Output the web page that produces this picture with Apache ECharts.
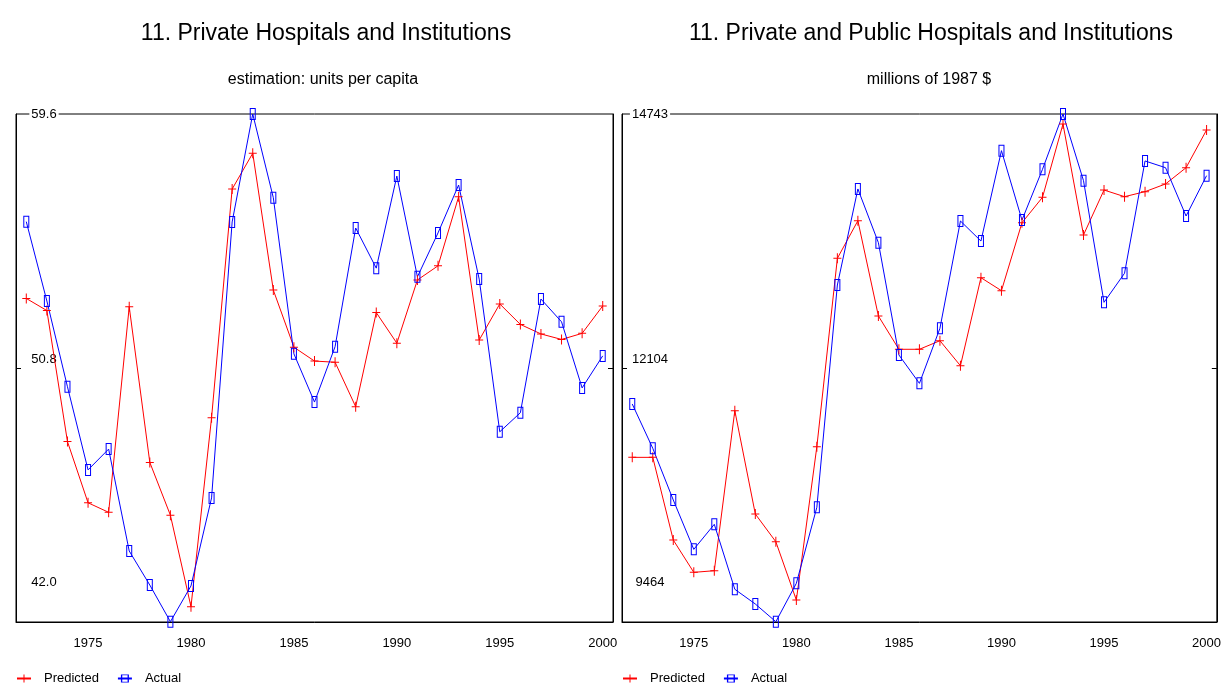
<!DOCTYPE html>
<html><head><meta charset="utf-8">
<script src="https://cdn.jsdelivr.net/npm/echarts@6/dist/echarts.min.js"></script>
<style>html,body{margin:0;padding:0;background:#fff}#c{width:1224px;height:683px}</style>
</head><body><div id="c"></div>
<script>
const years = ['1972','1973','1974','1975','1976','1977','1978','1979','1980','1981','1982','1983','1984','1985','1986','1987','1988','1989','1990','1991','1992','1993','1994','1995','1996','1997','1998','1999','2000'];
const privPredicted = [53.21,52.79,48.25,46.13,45.80,52.92,47.53,45.70,42.53,49.08,57.00,58.24,53.50,51.52,51.04,51.00,49.46,52.72,51.66,53.85,54.34,56.73,51.77,53.02,52.31,51.98,51.79,52.00,52.95];
const privActual    = [55.87,53.12,50.15,47.27,47.99,44.46,43.28,42.01,43.25,46.30,55.86,59.60,56.70,51.29,49.62,51.54,55.65,54.26,57.45,53.96,55.48,57.14,53.88,48.59,49.25,53.19,52.40,50.11,51.22];
const totPredicted  = [11175,11175,10316,9980,9997,11660,10586,10298,9692,11286,13243,13634,12644,12298,12298,12387,12127,13042,12907,13613,13877,14639,13486,13953,13884,13936,14016,14185,14577];
const totActual     = [11729,11269,10732,10219,10479,9804,9651,9467,9866,10656,12966,13964,13406,12239,11944,12516,13631,13423,14362,13641,14168,14743,14050,12786,13088,14255,14185,13683,14102];
const privTicks = [42.0, 50.8, 59.6];
const totTicks = [9464, 12104, 14743];
const titles = ['11. Private Hospitals and Institutions', '11. Private and Public Hospitals and Institutions'];
const subtitles = ['estimation: units per capita', 'millions of 1987 $'];
const seriesNames = ['Predicted', 'Actual'];

const FONT = "'Liberation Sans',Arial,sans-serif";
const CROSS = 'path://M3.5,0H4.5V4.5H8V5.5H4.5V10H3.5V5.5H0V4.5H3.5Z';
const FRAME = 'path://M0,0H6V12H0Z M1,1V11H5V1Z';
const chart = echarts.init(document.getElementById('c'), null, {renderer:'canvas'});

const panels = [
  {left:16, ticks:privTicks, pred:privPredicted, act:privActual, fmt:v=>v.toFixed(1), tx:321, sx:318},
  {left:622, ticks:totTicks, pred:totPredicted, act:totActual, fmt:v=>String(Math.round(v)), tx:926, sx:924}
];
const grid=[], xAxis=[], yAxis=[], series=[], title=[], legend=[];
const five = (i,v)=> (+v)%5===0;
panels.forEach((p,g)=>{
  grid.push({left:p.left, top:114, width:597, height:508, show:true, borderColor:'#000', borderWidth:1});
  xAxis.push({type:'category', gridIndex:g, data:years, boundaryGap:true, position:'bottom',
    axisLine:{lineStyle:{color:'#000',width:1}},
    axisTick:{inside:true,length:8,interval:0,lineStyle:{color:'#000'}},
    axisLabel:{show:false}, splitLine:{show:false}});
  xAxis.push({type:'category', gridIndex:g, data:years, boundaryGap:true, position:'bottom',
    axisLine:{show:false},
    axisTick:{inside:true,length:17,interval:five,lineStyle:{color:'#000'}},
    axisLabel:{interval:five,color:'#000',fontFamily:FONT,fontSize:13,margin:15}, splitLine:{show:false}});
  const mn=p.ticks[0], md=p.ticks[1], mx=p.ticks[2];
  yAxis.push({type:'value', gridIndex:g, min:mn, max:mx, position:'left',
    axisLine:{show:true,lineStyle:{color:'#000'}},
    axisTick:{show:true,inside:true,length:5,customValues:[md],lineStyle:{color:'#000'}},
    axisLabel:{inside:true, align:'center', margin:28, customValues:p.ticks,
      formatter:v=>{const s=p.fmt(v); if(v===mx) return '{top|'+s+'}'; if(v===mn) return '{bot|'+s+'}'; return '{mid|'+s+'}';},
      rich:{
        top:{fontFamily:FONT,fontSize:13,color:'#000',backgroundColor:'#fff',padding:[0,2,0,2]},
        mid:{fontFamily:FONT,fontSize:13,color:'#000',padding:[0,0,18,0]},
        bot:{fontFamily:FONT,fontSize:13,color:'#000',padding:[0,0,80,0]}
      }},
    splitLine:{show:false}});
  yAxis.push({type:'value', gridIndex:g, min:mn, max:mx, position:'right',
    axisLine:{show:true,lineStyle:{color:'#000'}},
    axisTick:{show:true,inside:true,length:5,customValues:[md],lineStyle:{color:'#000'}},
    axisLabel:{show:false}, splitLine:{show:false}});
  series.push({name:seriesNames[0], type:'line', xAxisIndex:2*g, yAxisIndex:2*g, data:p.pred,
    symbol:CROSS, symbolSize:[8,10], showAllSymbol:true,
    itemStyle:{color:'#ff0000'}, lineStyle:{color:'#ff0000',width:1}, emphasis:{disabled:true}});
  series.push({name:seriesNames[1], type:'line', xAxisIndex:2*g, yAxisIndex:2*g, data:p.act,
    symbol:FRAME, symbolSize:[6,12], showAllSymbol:true,
    itemStyle:{color:'#0000ff'}, lineStyle:{color:'#0000ff',width:1}, emphasis:{disabled:true}});
  title.push({text:titles[g], left:p.tx, top:17, textAlign:'center',
    textStyle:{fontFamily:FONT,fontSize:23,fontWeight:'normal',color:'#000'}});
  title.push({text:subtitles[g], left:p.sx, top:67, textAlign:'center',
    textStyle:{fontFamily:FONT,fontSize:16,fontWeight:'normal',color:'#000'}});
  legend.push({left:p.left-5, top:667, itemWidth:14, itemHeight:10, itemGap:18, data:seriesNames,
    textStyle:{fontFamily:FONT,fontSize:13,color:'#000',padding:[0,0,0,8]}});
});
chart.setOption({animation:false, backgroundColor:'#fff', title, legend, grid, xAxis, yAxis, series});
</script></body></html>
